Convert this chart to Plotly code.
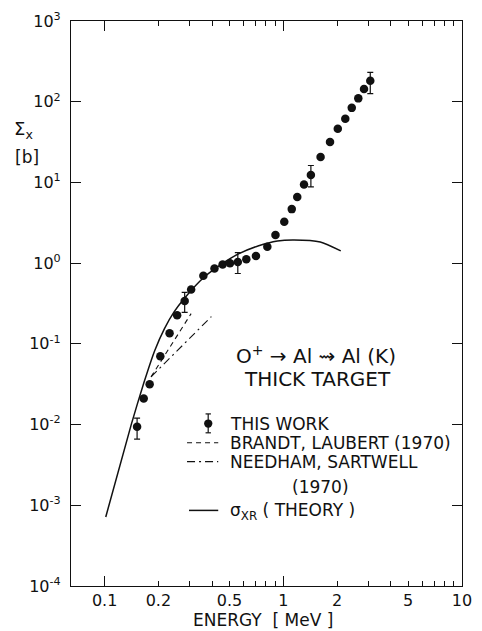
import plotly.graph_objects as go

# Measured thick-target X-ray production cross sections, O+ -> Al (K)
energy = [0.152, 0.1655, 0.1787, 0.205, 0.231, 0.2546, 0.2806, 0.305, 0.357, 0.412,
          0.4575, 0.503, 0.5565, 0.621, 0.703, 0.814, 0.904, 1.0125, 1.115, 1.197,
          1.306, 1.427, 1.617, 1.826, 2.018, 2.223, 2.416, 2.628, 2.83, 3.067]
sigma = [0.0094, 0.021, 0.0316, 0.070, 0.1355, 0.226, 0.34, 0.47, 0.697, 0.858,
         0.96, 1.00, 1.03, 1.12, 1.23, 1.60, 2.23, 3.26, 4.67, 6.62,
         9.42, 12.4, 20.6, 31.6, 46.2, 61.4, 83.9, 110, 144, 182]
err_up = [0.0026, None, None, None, None, None, 0.094, None, None, None,
          None, None, 0.32, None, None, None, None, None, None, None,
          None, 3.8, None, None, None, None, None, None, None, 49]
err_down = [0.0028, None, None, None, None, None, 0.094, None, None, None,
            None, None, 0.286, None, None, None, None, None, None, None,
            None, 3.6, None, None, None, None, None, None, None, 56]

# Theory curve sigma_XR
theory_e = [0.1015, 0.1412, 0.1662, 0.1909, 0.2163, 0.2453, 0.2815, 0.3573, 0.4207,
            0.5614, 0.7215, 0.9275, 1.148, 1.611, 2.097]
theory_s = [0.000717, 0.01014, 0.0334, 0.0829, 0.1548, 0.2509, 0.3734, 0.659, 0.875,
            1.302, 1.634, 1.884, 1.938, 1.830, 1.418]

# Brandt, Laubert (1970)
brandt_e = [0.182, 0.305]
brandt_s = [0.039, 0.237]

# Needham, Sartwell (1970)
needham_e = [0.182, 0.396]
needham_s = [0.039, 0.218]

x_label_vals = [0.1, 0.2, 0.5, 1, 2, 5, 10]
x_label_text = ["0.1", "0.2", "0.5", "1", "2", "5", "10"]
x_minor_vals = [0.3, 0.4, 0.6, 0.7, 0.8, 0.9, 3, 4, 6, 7, 8, 9]
x_decades = [0.1, 1, 10]
y_vals = [1e-4, 1e-3, 1e-2, 1e-1, 1e0, 1e1, 1e2, 1e3]
y_text = ["10<sup>-4</sup>", "10<sup>-3</sup>", "10<sup>-2</sup>", "10<sup>-1</sup>",
          "10<sup>0</sup>", "10<sup>1</sup>", "10<sup>2</sup>", "10<sup>3</sup>"]

FONT = "DejaVu Sans"
INK = "#111111"

W, H = 482, 631
L, R, T, B = 71, 10, 18, 45
PW, PH = W - L - R, H - T - B


def px(x):
    return (x - L) / PW


def py(y):
    return (H - B - y) / PH


fig = go.Figure()

fig.add_trace(go.Scatter(
    x=theory_e, y=theory_s, mode="lines",
    line=dict(color=INK, width=1.5, shape="spline", smoothing=0.6),
    hoverinfo="skip"))
fig.add_trace(go.Scatter(
    x=brandt_e, y=brandt_s, mode="lines",
    line=dict(color=INK, width=1.1, dash="5px,4px"), hoverinfo="skip"))
fig.add_trace(go.Scatter(
    x=needham_e, y=needham_s, mode="lines",
    line=dict(color=INK, width=1.1, dash="8px,4px,2px,4px"), hoverinfo="skip"))
fig.add_trace(go.Scatter(
    x=energy, y=sigma, mode="markers",
    marker=dict(color=INK, size=8.5, symbol="circle"),
    error_y=dict(type="data", symmetric=False, array=err_up, arrayminus=err_down,
                 color=INK, thickness=1.2, width=3)))
# empty trace that carries the decade-tick overlay axis
fig.add_trace(go.Scatter(x=[], y=[], xaxis="x2", hoverinfo="skip"))

x_range = [-1.188, 1.0]
fig.update_layout(
    width=W, height=H,
    margin=dict(l=L, r=R, t=T, b=B, pad=0),
    paper_bgcolor="white", plot_bgcolor="white",
    showlegend=False,
    font=dict(family=FONT, color=INK),
    xaxis=dict(
        type="log", range=x_range,
        tickmode="array", tickvals=x_label_vals, ticktext=x_label_text,
        ticks="inside", ticklen=5, tickwidth=1, tickcolor=INK,
        minor=dict(tickmode="array", tickvals=x_minor_vals, ticks="inside",
                   ticklen=5, tickwidth=1, tickcolor=INK, showgrid=False),
        showline=True, linecolor=INK, linewidth=1.2, mirror="ticks",
        showgrid=False, zeroline=False,
        tickfont=dict(size=16, family=FONT, color=INK),
    ),
    xaxis2=dict(
        type="log", range=x_range, overlaying="x", side="bottom",
        tickmode="array", tickvals=x_decades, showticklabels=False,
        ticks="inside", ticklen=10, tickwidth=1, tickcolor=INK,
        showline=False, mirror="ticks", showgrid=False, zeroline=False,
    ),
    yaxis=dict(
        type="log", range=[-4, 3],
        tickmode="array", tickvals=y_vals, ticktext=y_text,
        ticks="inside", ticklen=10, tickwidth=1, tickcolor=INK,
        showline=True, linecolor=INK, linewidth=1.2, mirror="ticks",
        showgrid=False, zeroline=False, ticklabelstandoff=6,
        tickfont=dict(size=16, family=FONT, color=INK),
    ),
)

annotations = [
    dict(x=px(22), y=py(128), text="Σ<sub>x</sub>", font=dict(size=18)),
    dict(x=px(26), y=py(155), text="[b]", font=dict(size=17)),
    dict(x=px(268), y=py(620), text="ENERGY  [ MeV ]", font=dict(size=17)),
    dict(x=px(322), y=py(354), text="O<sup>+</sup> → Al ⇝ Al (K)", font=dict(size=20)),
    dict(x=px(324), y=py(378), text="THICK TARGET", font=dict(size=20)),
    dict(x=px(232), y=py(423), text="THIS WORK", xanchor="left", font=dict(size=17)),
    dict(x=px(232), y=py(442), text="BRANDT, LAUBERT (1970)", xanchor="left", font=dict(size=17)),
    dict(x=px(232), y=py(461), text="NEEDHAM, SARTWELL", xanchor="left", font=dict(size=17)),
    dict(x=px(327), y=py(486), text="(1970)", font=dict(size=17)),
    dict(x=px(232), y=py(511), text="σ<sub>XR</sub> ( THEORY )", xanchor="left", font=dict(size=17)),
]
for a in annotations:
    a.update(xref="paper", yref="paper", showarrow=False, yanchor="middle")
    a.setdefault("xanchor", "center")
    a["font"].update(family=FONT, color=INK)
fig.update_layout(annotations=annotations)

# legend key samples
shapes = [
    dict(type="circle", x0=px(207.5), x1=px(216), y0=py(418.5), y1=py(427),
         fillcolor=INK, line=dict(color=INK, width=0)),
    dict(type="line", x0=px(211.7), x1=px(211.7), y0=py(413), y1=py(432),
         line=dict(color=INK, width=1.2)),
    dict(type="line", x0=px(209), x1=px(214.5), y0=py(413), y1=py(413),
         line=dict(color=INK, width=1.2)),
    dict(type="line", x0=px(209), x1=px(214.5), y0=py(432), y1=py(432),
         line=dict(color=INK, width=1.2)),
    dict(type="line", x0=px(190), x1=px(222), y0=py(442), y1=py(442),
         line=dict(color=INK, width=1.1, dash="5px,4px")),
    dict(type="line", x0=px(190), x1=px(222), y0=py(461), y1=py(461),
         line=dict(color=INK, width=1.1, dash="8px,4px,2px,4px")),
    dict(type="line", x0=px(192), x1=px(222), y0=py(510), y1=py(510),
         line=dict(color=INK, width=1.5)),
]
for s in shapes:
    s.update(xref="paper", yref="paper")
fig.update_layout(shapes=shapes)

fig.write_html("out.html")
